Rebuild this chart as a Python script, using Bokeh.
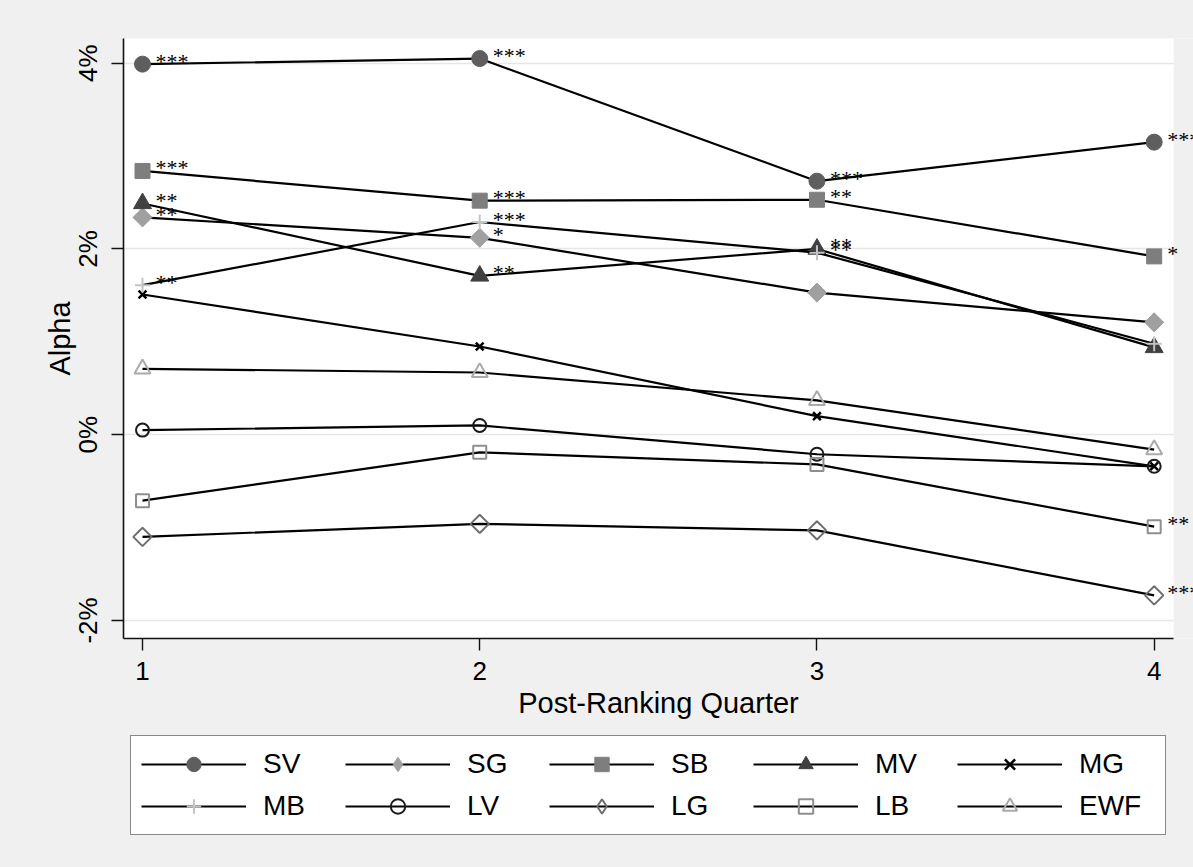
from bokeh.plotting import figure
from bokeh.layouts import column
from bokeh.models import (Range1d, FixedTicker, Legend, LegendItem, LabelSet,
                          ColumnDataSource)
from bokeh.embed import file_html
from bokeh.resources import INLINE
import math

# ---------------- data ----------------
quarters = [1, 2, 3, 4]
series_names = ["SV", "SG", "SB", "MV", "MG", "MB", "LV", "LG", "LB", "EWF"]

SV = [3.99, 4.05, 2.73, 3.15]
SG = [2.34, 2.12, 1.53, 1.21]
SB = [2.84, 2.52, 2.53, 1.92]
MV = [2.49, 1.71, 2.00, 0.94]
MG = [1.51, 0.95, 0.20, -0.34]
MB = [1.61, 2.29, 1.96, 0.98]
LV = [0.05, 0.10, -0.21, -0.34]
LG = [-1.10, -0.96, -1.03, -1.73]
LB = [-0.71, -0.19, -0.32, -0.99]
EWF = [0.71, 0.67, 0.37, -0.16]

SV_sig = ["***", "***", "***", "***"]
SG_sig = ["**", "*", "", ""]
SB_sig = ["***", "***", "**", "*"]
MV_sig = ["**", "**", "**", ""]
MG_sig = ["", "", "", ""]
MB_sig = ["**", "***", "**", ""]
LV_sig = ["", "", "", ""]
LG_sig = ["", "", "", "***"]
LB_sig = ["", "", "", "**"]
EWF_sig = ["", "", "", ""]

y_ticks = [-2, 0, 2, 4]
y_tick_labels = ["-2%", "0%", "2%", "4%"]
x_ticks = [1, 2, 3, 4]

values = {"SV": SV, "SG": SG, "SB": SB, "MV": MV, "MG": MG,
          "MB": MB, "LV": LV, "LG": LG, "LB": LB, "EWF": EWF}
sigs = {"SV": SV_sig, "SG": SG_sig, "SB": SB_sig, "MV": MV_sig, "MG": MG_sig,
        "MB": MB_sig, "LV": LV_sig, "LG": LG_sig, "LB": LB_sig, "EWF": EWF_sig}

# ---------------- styles ----------------
FONT = "Liberation Sans"
BG = "#f0f0f0"
D = math.pi / 4
styles = {
    "SV":  dict(marker="circle", size=16, fill_color="#5e5e5e", line_color="#5e5e5e", line_width=1, angle=0),
    "SG":  dict(marker="square", size=13.5, fill_color="#a0a0a0", line_color="#a0a0a0", line_width=1, angle=D),
    "SB":  dict(marker="square", size=15, fill_color="#7e7e7e", line_color="#7e7e7e", line_width=1, angle=0),
    "MV":  dict(marker="triangle", size=18, fill_color="#404040", line_color="#404040", line_width=1, angle=0),
    "MG":  dict(marker="x", size=11, fill_color=None, line_color="#000000", line_width=2.5, angle=0),
    "MB":  dict(marker="cross", size=15, fill_color=None, line_color="#c4c4c4", line_width=2, angle=0),
    "LV":  dict(marker="circle", size=13, fill_color=None, line_color="#1a1a1a", line_width=2, angle=0),
    "LG":  dict(marker="square", size=13, fill_color=None, line_color="#6e6e6e", line_width=2, angle=D),
    "LB":  dict(marker="square", size=13, fill_color=None, line_color="#8e8e8e", line_width=2, angle=0),
    "EWF": dict(marker="triangle", size=16, fill_color=None, line_color="#aaaaaa", line_width=2, angle=0),
}

# white plot area ends at x_white_end; the frame continues (grey) to the
# window edge so that the significance stars at quarter 4 are not clipped
x_start, x_white_end, x_end = 0.94365, 4.0577, 4.1166
y_start, y_end = -2.194, 4.266

MAIN_H = 734
p = figure(width=1193, height=MAIN_H, output_backend="svg",
           toolbar_location=None,
           x_range=Range1d(x_start, x_end), y_range=Range1d(y_start, y_end),
           min_border_left=123, min_border_right=0, min_border_top=38,
           min_border_bottom=MAIN_H - 38 - 600,
           background_fill_color="white", border_fill_color=BG,
           outline_line_color=None)

p.xgrid.visible = False
p.ygrid.grid_line_color = "#e6e6e6"
p.ygrid.grid_line_width = 1.5

# grey margin strip to the right of the white plot area (over the grid,
# under the series, which are added afterwards)
p.quad(left=[x_white_end], right=[x_end + 1], bottom=[y_start - 1],
       top=[y_end + 1], fill_color=BG, fill_alpha=1.0, line_color=None)

for ax in (p.xaxis[0], p.yaxis[0]):
    ax.axis_line_color = "#111111"
    ax.axis_line_width = 1.6
    ax.major_tick_line_color = "#111111"
    ax.major_tick_line_width = 1.4
    ax.major_tick_out = 12
    ax.major_tick_in = 0
    ax.minor_tick_line_color = None
    ax.major_label_text_font = FONT
    ax.major_label_text_font_size = "26px"
    ax.major_label_text_color = "#000000"
    ax.axis_label_text_font = FONT
    ax.axis_label_text_font_size = "29px"
    ax.axis_label_text_font_style = "normal"
    ax.axis_label_text_color = "#000000"

p.xaxis.ticker = FixedTicker(ticks=x_ticks)
p.xaxis.bounds = (x_start, x_white_end)
p.xaxis.axis_label = "Post-Ranking Quarter"
p.xaxis.major_label_standoff = 11
p.xaxis.axis_label_standoff = 4

p.yaxis.ticker = FixedTicker(ticks=y_ticks)
p.yaxis.major_label_overrides = {t: l for t, l in zip(y_ticks, y_tick_labels)}
p.yaxis.major_label_orientation = "vertical"
p.yaxis.axis_label = "Alpha"
p.yaxis.major_label_standoff = 8
p.yaxis.axis_label_standoff = -5

lab_x, lab_y, lab_t = [], [], []
for name in series_names:
    ys = values[name]
    st = styles[name]
    p.line(quarters, ys, line_color="#000000", line_width=2.2)
    p.scatter(quarters, ys, marker=st["marker"], size=st["size"],
              fill_color=st["fill_color"], line_color=st["line_color"],
              line_width=st["line_width"], angle=st["angle"])
    for q, v, s in zip(quarters, ys, sigs[name]):
        if s:
            lab_x.append(q)
            lab_y.append(v)
            lab_t.append(s)

src = ColumnDataSource(dict(x=lab_x, y=lab_y, t=lab_t))
labels = LabelSet(x="x", y="y", text="t", source=src, x_offset=13, y_offset=3,
                  text_font=FONT, text_font_size="22px", text_color="#000000",
                  text_baseline="middle", text_align="left", level="overlay")
p.add_layout(labels)

# ---------------- legend strip ----------------
LEG_H = 867 - MAIN_H
pl = figure(width=1193, height=LEG_H, output_backend="svg",
            toolbar_location=None, x_axis_location=None, y_axis_location=None,
            x_range=Range1d(-1, 0), y_range=Range1d(-10, -9),
            min_border_left=123, min_border_right=0, min_border_top=0,
            min_border_bottom=0,
            background_fill_color=BG, background_fill_alpha=0.0,
            border_fill_color=BG, border_fill_alpha=0.0,
            outline_line_color=None)
pl.grid.visible = False

items = []
for name in series_names:
    ys = values[name]
    st = styles[name]
    key_marker = "diamond" if st["angle"] else st["marker"]
    lr = pl.line(quarters, ys, line_color="#000000", line_width=2.2)
    sr = pl.scatter(quarters, ys, marker=key_marker,
                    fill_color=st["fill_color"], line_color=st["line_color"],
                    line_width=st["line_width"])
    items.append(LegendItem(label=name, renderers=[lr, sr]))

legend = Legend(items=items, orientation="horizontal", ncols=5,
                location=(7, LEG_H - 3 - 98),
                glyph_width=105, glyph_height=36, label_height=36,
                label_width=76, label_standoff=17, spacing=6, padding=10,
                margin=0,
                label_text_font=FONT, label_text_font_size="28px",
                label_text_color="#000000", label_text_baseline="middle",
                border_line_color="#111111", border_line_width=1.5,
                background_fill_color="white", background_fill_alpha=1.0)
pl.add_layout(legend)

layout = column(p, pl, spacing=0, styles={"background-color": BG})
open("out.html", "w").write(file_html(layout, INLINE))
